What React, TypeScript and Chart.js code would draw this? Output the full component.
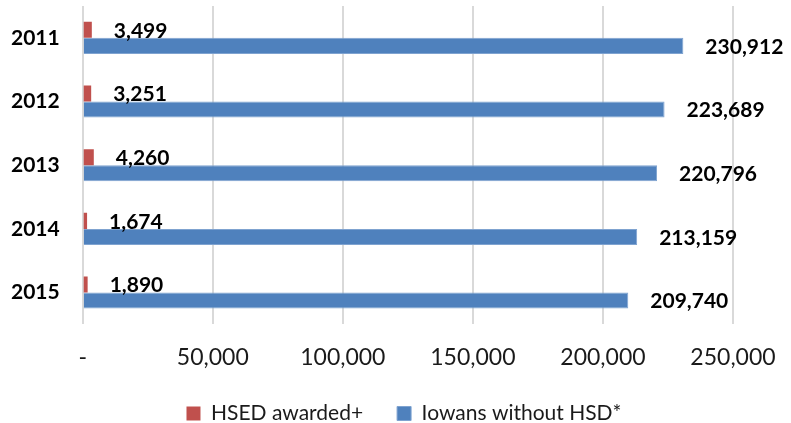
import React, { useEffect, useRef } from "react";
import { Chart, registerables } from "chart.js";

Chart.register(...registerables);

const years = ["2011", "2012", "2013", "2014", "2015"];
const hsedAwarded = [3499, 3251, 4260, 1674, 1890];
const iowansWithoutHsd = [230912, 223689, 220796, 213159, 209740];
const seriesNames = ["HSED awarded+", "Iowans without HSD*"];
const xTickValues = [0, 50000, 100000, 150000, 200000, 250000];

const fmt = (v: number) => v.toLocaleString("en-US");

const labelPlugin = {
  id: "barValueLabels",
  afterLayout(chart: any) {
    const lg = chart.legend;
    if (lg) {
      lg.left = 75;
      lg.width = lg.right - 75;
      lg.top -= 2;
      lg.bottom -= 2;
    }
  },
  afterDatasetsDraw(chart: any) {
    const ctx = chart.ctx;
    ctx.save();
    ctx.font = "bold 21px Lato";
    ctx.fillStyle = "#000";
    ctx.textAlign = "left";
    ctx.textBaseline = "middle";
    chart.data.datasets.forEach((ds: any, di: number) => {
      const meta = chart.getDatasetMeta(di);
      meta.data.forEach((bar: any, i: number) => {
        ctx.fillText(fmt(ds.data[i]), bar.x + 22, bar.y + 1);
      });
    });
    ctx.restore();
  },
};

export default function App() {
  const ref = useRef<HTMLCanvasElement>(null);
  useEffect(() => {
    if (!ref.current) return;
    Chart.defaults.font.family = "Lato";
    const chart = new Chart(ref.current, {
      type: "bar",
      data: {
        labels: years,
        datasets: [
          {
            label: seriesNames[0],
            data: hsedAwarded,
            backgroundColor: "#C0504D",
            borderWidth: 0,
          },
          {
            label: seriesNames[1],
            data: iowansWithoutHsd,
            backgroundColor: "#4F81BD",
            borderColor: "#7FA3D0",
            borderWidth: 1,
          },
        ],
      },
      options: {
        indexAxis: "y",
        responsive: true,
        maintainAspectRatio: false,
        animation: false,
        datasets: {
          bar: { categoryPercentage: 0.504, barPercentage: 1 },
        },
        layout: { padding: { top: 6, left: 11, right: 58, bottom: -13 } },
        plugins: {
          legend: {
            position: "bottom",
            labels: {
              font: { size: 21 },
              color: "#1a1a1a",
              boxWidth: 14,
              boxHeight: 14,
              padding: 34,
            },
          },
          tooltip: { enabled: false },
        },
        scales: {
          x: {
            min: 0,
            max: 250000,
            border: { display: false },
            grid: { color: "#D9D9D9", lineWidth: 2, drawTicks: false },
            afterBuildTicks: (scale: any) => {
              scale.ticks = xTickValues.map((v) => ({ value: v }));
            },
            afterFit: (scale: any) => {
              scale.paddingLeft = 0;
              scale.paddingRight = 0;
              scale.height -= 19;
            },
            ticks: {
              padding: 19,
              color: "#1a1a1a",
              font: { size: 23 },
              callback: (v: any) => (Number(v) === 0 ? "-" : fmt(Number(v))),
            },
          },
          y: {
            border: { display: false },
            grid: { display: false, drawTicks: false },
            afterFit: (scale: any) => {
              scale.paddingTop = 0;
              scale.paddingBottom = 0;
              scale.width -= 23;
            },
            ticks: {
              padding: 23,
              color: "#000",
              font: { size: 21, weight: "bold" },
            },
          },
        },
      },
      plugins: [labelPlugin],
    });
    return () => chart.destroy();
  }, []);
  return (
    <div style={{ position: "absolute", left: 0, top: 0, width: 791, height: 423 }}>
      <canvas ref={ref} />
    </div>
  );
}
